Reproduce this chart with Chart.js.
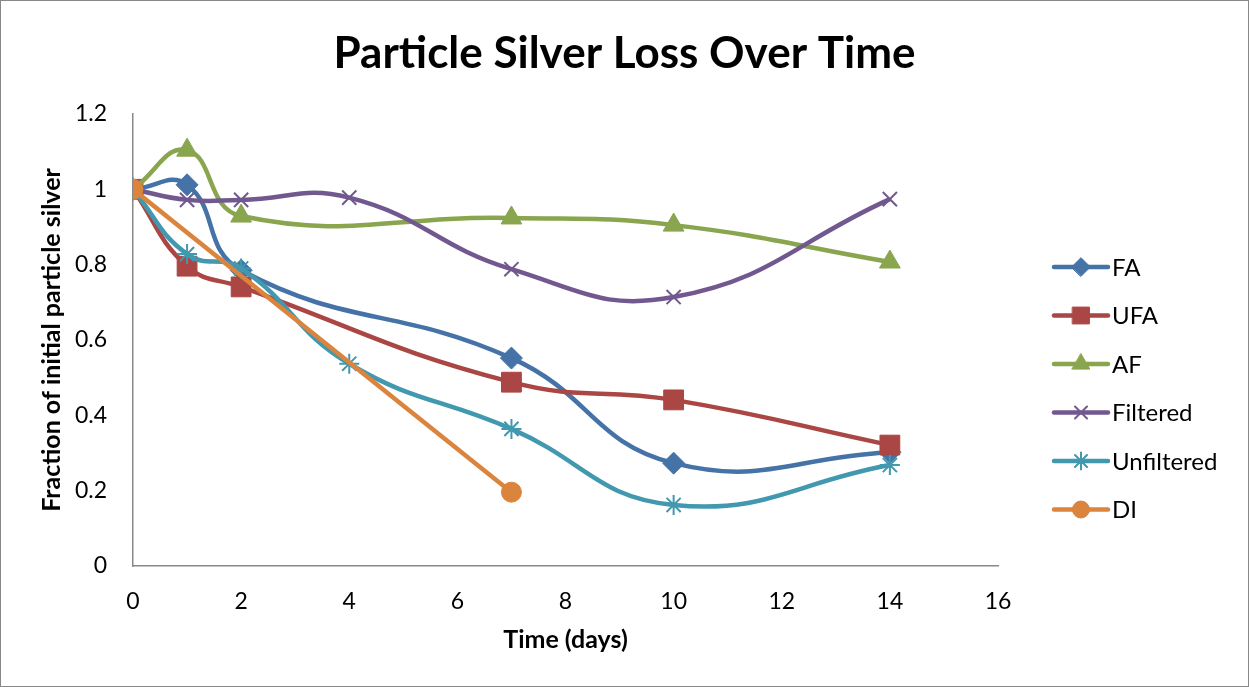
<!DOCTYPE html>
<html>
<head>
<meta charset="utf-8">
<script src="https://cdn.jsdelivr.net/npm/chart.js@4"></script>
<style>
  html, body { margin: 0; padding: 0; background: #fff; }
  #wrap { position: relative; width: 1247px; height: 685px; border: 1px solid #888; }
</style>
</head>
<body>
<div id="wrap"><canvas id="chart" width="1247" height="685"></canvas></div>
<script>
// Podaci ocitani sa slike
const seriesNames = ['FA', 'UFA', 'AF', 'Filtered', 'Unfiltered', 'DI'];
const faDays = [0, 1, 2, 7, 10, 14];
const faValues = [1, 1.012, 0.785, 0.552, 0.273, 0.302];
const ufaDays = [0, 1, 2, 7, 10, 14];
const ufaValues = [1, 0.796, 0.741, 0.488, 0.441, 0.321];
const afDays = [0, 1, 2, 7, 10, 14];
const afValues = [1, 1.104, 0.929, 0.924, 0.905, 0.807];
const filteredDays = [0, 1, 2, 4, 7, 10, 14];
const filteredValues = [1, 0.972, 0.972, 0.978, 0.788, 0.714, 0.974];
const unfilteredDays = [0, 1, 2, 4, 7, 10, 14];
const unfilteredValues = [1, 0.828, 0.790, 0.537, 0.364, 0.162, 0.268];
const diDays = [0, 7];
const diValues = [1, 0.196];

const colors = ['#4572A7', '#AA4643', '#89A54E', '#71588F', '#4198AF', '#DB843D'];
const markers = ['rectRot', 'rect', 'triangle', 'crossRot', 'star', 'circle'];
const radii = [11, 14, 12, 10, 10, 10];
const allDays = [faDays, ufaDays, afDays, filteredDays, unfilteredDays, diDays];
const allValues = [faValues, ufaValues, afValues, filteredValues, unfilteredValues, diValues];

const font = 'Lato, Calibri, sans-serif';
const thin = m => m === 'crossRot' || m === 'star';

const datasets = seriesNames.map((name, i) => ({
    label: name,
    data: allDays[i].map((d, j) => ({ x: d, y: allValues[i][j] })),
    borderColor: colors[i],
    backgroundColor: colors[i],
    borderWidth: 4.5,
    pointStyle: markers[i],
    pointRadius: radii[i],
    pointBorderWidth: thin(markers[i]) ? 2 : 1,
    pointBorderColor: colors[i],
    pointBackgroundColor: colors[i],
    tension: 0.45,
    order: seriesNames.length - i
}));

// Naslov i legenda (linija + marker kao u Excelu)
const titleAndLegend = {
    id: 'titleAndLegend',
    afterDraw(chart) {
        const ctx = chart.ctx;
        ctx.save();
        ctx.fillStyle = '#000';
        ctx.font = 'bold 44px ' + font;
        ctx.textAlign = 'center';
        ctx.textBaseline = 'middle';
        ctx.fillText('Particle Silver Loss Over Time', chart.width / 2, 53);
        ctx.restore();

        const x0 = 1053, startY = 266, gap = 48.5;
        seriesNames.forEach((name, i) => {
            const y = startY + i * gap;
            ctx.save();
            ctx.strokeStyle = colors[i];
            ctx.lineWidth = 4.5;
            ctx.lineCap = 'round';
            ctx.beginPath();
            ctx.moveTo(x0, y);
            ctx.lineTo(x0 + 54, y);
            ctx.stroke();
            ctx.fillStyle = colors[i];
            ctx.lineWidth = thin(markers[i]) ? 2 : 1;
            Chart.helpers.drawPoint(ctx, { pointStyle: markers[i], radius: radii[i] * 0.85, borderWidth: ctx.lineWidth }, x0 + 27, y);
            ctx.fillStyle = '#000';
            ctx.font = '24px ' + font;
            ctx.textBaseline = 'middle';
            ctx.fillText(name, x0 + 58, y + 1);
            ctx.restore();
        });
    }
};

new Chart(document.getElementById('chart'), {
    type: 'line',
    data: { datasets: datasets },
    plugins: [titleAndLegend],
    options: {
        responsive: false,
        animation: false,
        layout: { padding: { left: 36, right: 250, top: 113, bottom: 31 } },
        plugins: {
            legend: { display: false },
            tooltip: { enabled: false },
            title: { display: false }
        },
        scales: {
            x: {
                type: 'linear',
                min: 0, max: 16,
                afterFit: s => { s.height = 89; },
                ticks: { stepSize: 2, color: '#000', font: { family: font, size: 23 }, padding: 14 },
                grid: { display: false, drawTicks: true, tickLength: 8, tickColor: '#888' },
                border: { color: '#888', width: 1.5 },
                title: { display: true, text: 'Time (days)', color: '#000', font: { family: font, size: 25, weight: 'bold' }, padding: 0 }
            },
            y: {
                min: 0, max: 1.2,
                afterFit: s => { s.width = 96; },
                ticks: {
                    stepSize: 0.2, color: '#000', font: { family: font, size: 23 }, padding: 18,
                    callback: v => Math.round(v * 10) / 10
                },
                grid: { display: false, drawTicks: true, tickLength: 8, tickColor: '#888' },
                border: { color: '#888', width: 1.5 },
                title: { display: true, text: 'Fraction of initial particle silver', color: '#000', font: { family: font, size: 25, weight: 'bold' }, padding: 0 }
            }
        }
    }
});
</script>
</body>
</html>
